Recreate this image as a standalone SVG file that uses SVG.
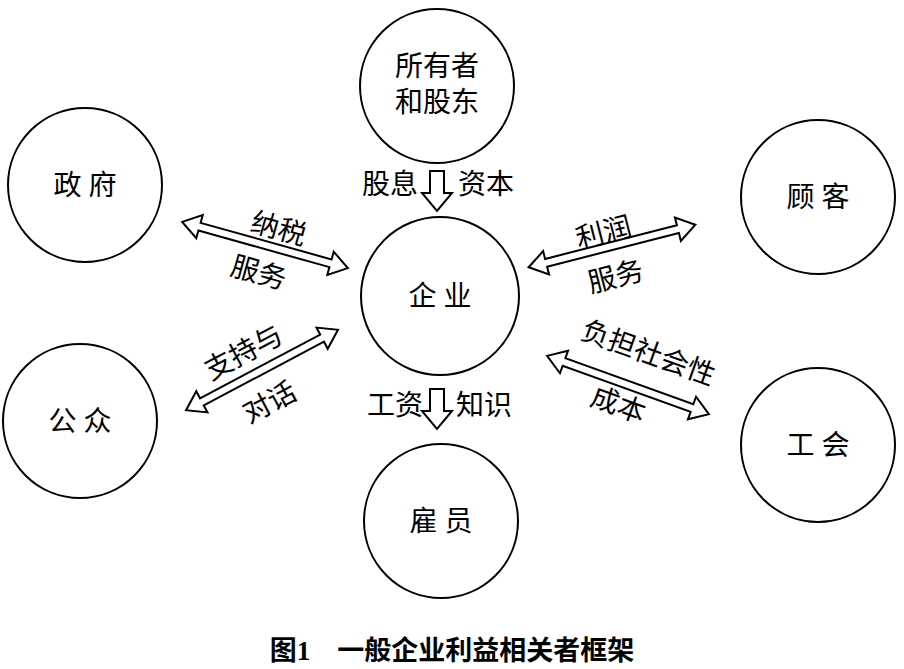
<svg xmlns="http://www.w3.org/2000/svg" width="904" height="669" viewBox="0 0 904 669">
<defs>
<style>
circle{fill:#fff;stroke:#000;stroke-width:2}
text{font-family:"Liberation Serif","Noto Sans CJK SC",serif;font-size:28px;fill:#000;text-anchor:middle}
.arr{fill:#fff;stroke:#000;stroke-width:2;stroke-linejoin:miter}
</style>
<polygon id="dbl" class="arr" points="-86,0 -68,-12 -68,-4 68,-4 68,-12 86,0 68,12 68,4 -68,4 -68,12"/>
<polygon id="down" class="arr" points="-7,-20 7,-20 7,2 15,2 0,20 -15,2 -7,2"/>
</defs>
<rect width="904" height="669" fill="#fff"/>
<g id="owner"><circle cx="437" cy="86" r="77"/><text x="437" y="76">所有者</text><text x="437" y="112">和股东</text></g>
<g id="gov"><circle cx="85" cy="185" r="77"/><text x="85" y="195">政 府</text></g>
<g id="customer"><circle cx="818" cy="197" r="77"/><text x="818" y="207">顾 客</text></g>
<g id="firm"><circle cx="440" cy="296" r="79"/><text x="440" y="306">企 业</text></g>
<g id="public"><circle cx="80" cy="421" r="77"/><text x="80" y="431">公 众</text></g>
<g id="union"><circle cx="818" cy="445" r="77"/><text x="818" y="455">工 会</text></g>
<g id="staff"><circle cx="441" cy="521" r="77"/><text x="441" y="531">雇 员</text></g>
<g id="connectors">
<use href="#dbl" transform="translate(265,245) rotate(15.6)"/>
<use href="#dbl" transform="translate(612,246) rotate(-14.3)"/>
<use href="#dbl" transform="translate(262,370) rotate(-27.9)"/>
<use href="#dbl" transform="translate(628,385) rotate(19.8)"/>
<use href="#down" transform="translate(437,191)"/>
<use href="#down" transform="translate(437,409)"/>
</g>
<g id="labels">
<text x="390" y="194">股息</text><text x="486" y="194">资本</text>
<text x="395" y="415">工资</text><text x="484" y="415">知识</text>
<text transform="translate(276,238) rotate(15.6)">纳税</text>
<text transform="translate(256,282) rotate(15.6)">服务</text>
<text transform="translate(606,242) rotate(-14.3)">利润</text>
<text transform="translate(618,286) rotate(-14.3)">服务</text>
<text transform="translate(248,361) rotate(-27.9)">支持与</text>
<text transform="translate(274,411) rotate(-27.9)">对话</text>
<text transform="translate(645,362) rotate(19.8)">负担社会性</text>
<text transform="translate(615,414) rotate(19.8)">成本</text>
<text x="452" y="660" style="font-weight:bold;font-size:27px">图1　一般企业利益相关者框架</text>
</g>
</svg>
